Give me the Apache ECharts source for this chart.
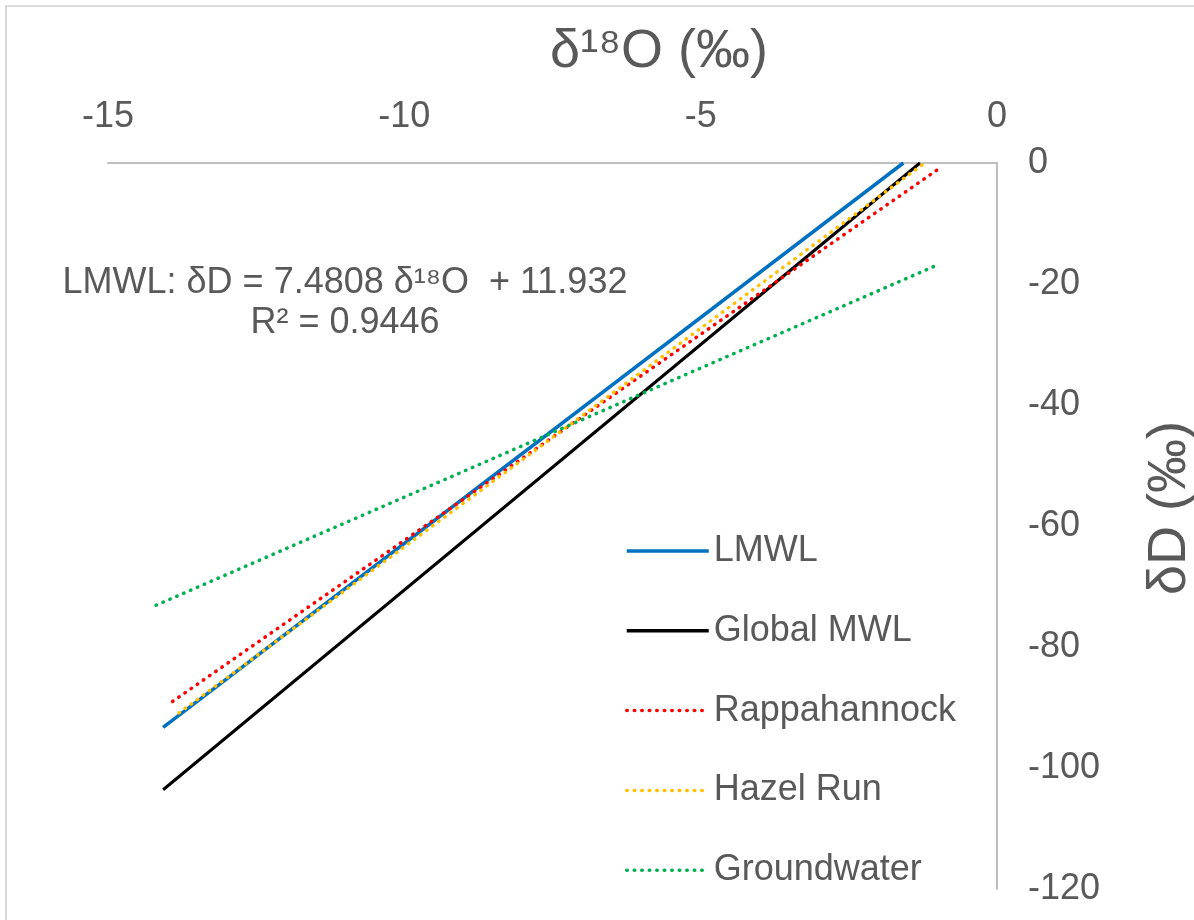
<!DOCTYPE html>
<html>
<head>
<meta charset="utf-8">
<script src="https://cdn.jsdelivr.net/npm/echarts@6/dist/echarts.min.js"></script>
<style>
html,body{margin:0;padding:0;background:#fff;}
#chart{width:1194px;height:920px;}
</style>
</head>
<body>
<div id="chart"></div>
<script>
// Data
const seriesNames = ['LMWL', 'Global MWL', 'Rappahannock', 'Hazel Run', 'Groundwater'];
const lmwlX = [-14.07, -1.58];
const lmwlY = [-93.3, 0];
const gmwlX = [-14.07, -1.3];
const gmwlY = [-103.6, 0];
const rappX = [-13.91, -0.93];
const rappY = [-89.0, -0.6];
const hazelX = [-13.8, -1.22];
const hazelY = [-90.9, 0];
const groundX = [-14.19, -0.97];
const groundY = [-73.1, -16.7];
const xTicks = [-15, -10, -5, 0];
const yTicks = [0, -20, -40, -60, -80, -100, -120];
const equationText = 'LMWL: δD = 7.4808 δ¹⁸O  + 11.932';
const r2Text = 'R² = 0.9446';
const xTitle = 'δ¹⁸O (‰)';
const yTitle = 'δD (‰)';

const FONT = '"Liberation Sans", Arial, sans-serif';
const TXT = '#595959';
const DOT = [0.5, 7];

function pts(xs, ys) { return xs.map((x, i) => [x, ys[i]]); }

const chart = echarts.init(document.getElementById('chart'), null, {renderer: 'canvas'});
chart.setOption({
  animation: false,
  backgroundColor: '#fff',
  grid: {left: 108, right: 197, top: 163, bottom: 31},
  xAxis: {
    type: 'value', position: 'top',
    min: xTicks[0], max: xTicks[xTicks.length - 1], interval: 5,
    axisLine: {show: true, onZero: false, lineStyle: {color: '#BFBFBF', width: 2}},
    axisTick: {show: false},
    splitLine: {show: false},
    axisLabel: {fontSize: 36, color: TXT, fontFamily: FONT, margin: 28}
  },
  yAxis: {
    type: 'value', position: 'right',
    min: yTicks[yTicks.length - 1], max: yTicks[0], interval: 20,
    axisLine: {show: true, onZero: false, lineStyle: {color: '#BFBFBF', width: 2}},
    axisTick: {show: false},
    splitLine: {show: false},
    axisLabel: {fontSize: 36, color: TXT, fontFamily: FONT, margin: 31, align: 'left'}
  },
  legend: {
    orient: 'vertical', left: 625, top: 533, padding: 0,
    itemWidth: 82, itemHeight: 14, itemGap: 43.8,
    itemStyle: {opacity: 0},
    lineStyle: {width: 3.5},
    textStyle: {fontSize: 36, color: TXT, fontFamily: FONT, lineHeight: 36, padding: [0, 0, 0, 0]},
    data: seriesNames
  },
  series: [
    {name: seriesNames[0], type: 'line', symbol: 'none', data: pts(lmwlX, lmwlY),
     lineStyle: {color: '#0070C0', width: 3.5}, itemStyle: {color: '#0070C0'}},
    {name: seriesNames[1], type: 'line', symbol: 'none', data: pts(gmwlX, gmwlY),
     lineStyle: {color: '#000000', width: 3}, itemStyle: {color: '#000000'}},
    {name: seriesNames[2], type: 'line', symbol: 'none', data: pts(rappX, rappY),
     lineStyle: {color: '#FF0000', width: 3.5, type: DOT, cap: 'round'}, itemStyle: {color: '#FF0000'}},
    {name: seriesNames[3], type: 'line', symbol: 'none', data: pts(hazelX, hazelY),
     lineStyle: {color: '#FFC000', width: 3.5, type: DOT, cap: 'round'}, itemStyle: {color: '#FFC000'}},
    {name: seriesNames[4], type: 'line', symbol: 'none', data: pts(groundX, groundY),
     lineStyle: {color: '#00B050', width: 3.5, type: DOT, cap: 'round'}, itemStyle: {color: '#00B050'}}
  ],
  graphic: [
    {type: 'rect', shape: {x: 6, y: 6, width: 1200, height: 930},
     style: {fill: 'none', stroke: '#D9D9D9', lineWidth: 2}, silent: true, z: -1},
    {type: 'text', x: 659, y: 52,
     style: {text: xTitle, font: '54px ' + FONT, fill: TXT, align: 'center', verticalAlign: 'middle'}},
    {type: 'text', x: 1170, y: 508, rotation: Math.PI / 2,
     style: {text: yTitle, font: '54px ' + FONT, fill: TXT, align: 'center', verticalAlign: 'middle'}},
    {type: 'text', x: 345, y: 303,
     style: {text: equationText + '\n' + r2Text, font: '36px ' + FONT, lineHeight: 40,
             fill: TXT, align: 'center', verticalAlign: 'middle'}}
  ]
});
</script>
</body>
</html>
